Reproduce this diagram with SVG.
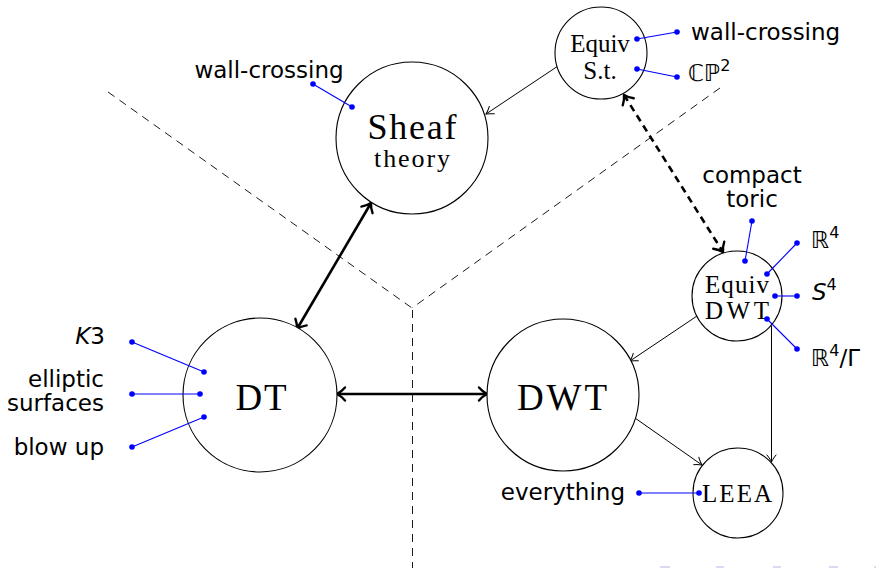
<svg xmlns="http://www.w3.org/2000/svg" width="876" height="568" viewBox="0 0 876 568">
  <style>
    .node { fill: #ffffff; stroke: #000000; stroke-width: 1.1; }
    .rm { font-family: "Liberation Serif", "DejaVu Serif", serif; fill: #000000; text-anchor: middle; }
    .sf { font-family: "DejaVu Sans", "Liberation Sans", sans-serif; font-size: 23px; fill: #000000; }
    .divider { fill: none; stroke: #1a1a1a; stroke-width: 1; stroke-dasharray: 8 6; }
    .thin { fill: none; stroke: #000000; stroke-width: 1; marker-end: url(#tip); }
    .thick { fill: none; stroke: #000000; stroke-width: 2.6; marker-start: url(#bigtip); marker-end: url(#bigtip); }
    .thickdash { fill: none; stroke: #000000; stroke-width: 2.6; stroke-dasharray: 7 5; marker-start: url(#bigtip); marker-end: url(#bigtip); }
    .pin { stroke: #0000ff; stroke-width: 1.1; fill: none; }
    .dot { fill: #0000ff; }
    .sup { font-size: 16px; }
    .ghost { fill: #dcd8ef; }
  </style>
  <defs>
    <marker id="tip" viewBox="-10 -6 12 12" refX="0" refY="0" markerWidth="12" markerHeight="12" markerUnits="userSpaceOnUse" orient="auto-start-reverse">
      <path d="M-7,-4.5 C-4,-2 -1.5,-0.7 0,0 C-1.5,0.7 -4,2 -7,4.5" fill="none" stroke="#000000" stroke-width="1" stroke-linecap="round"/>
    </marker>
    <marker id="bigtip" viewBox="-12 -9 16 18" refX="0" refY="0" markerWidth="16" markerHeight="18" markerUnits="userSpaceOnUse" orient="auto-start-reverse">
      <path d="M-8,-6.5 C-5,-3 -2,-1 0,0 C-2,1 -5,3 -8,6.5" fill="none" stroke="#000000" stroke-width="2.4" stroke-linecap="round" stroke-linejoin="round"/>
    </marker>
  </defs>

  <!-- region dividers -->
  <g id="dividers">
    <line class="divider" x1="108" y1="92" x2="412" y2="308"/>
    <line class="divider" x1="720" y1="88" x2="412" y2="308"/>
    <line class="divider" x1="412.5" y1="310" x2="412.5" y2="568"/>
  </g>

  <!-- connectors -->
  <g id="connectors">
    <line class="thin" x1="558" y1="66" x2="486" y2="114"/>
    <line class="thin" x1="697" y1="316" x2="630" y2="361"/>
    <line class="thin" x1="771.5" y1="326" x2="771.5" y2="462"/>
    <line class="thin" x1="635" y1="418" x2="702" y2="465"/>
    <line class="thick" x1="371" y1="203" x2="297" y2="329"/>
    <line class="thick" x1="337" y1="394" x2="487" y2="394"/>
    <line class="thickdash" x1="624" y1="95" x2="723" y2="252"/>
  </g>

  <!-- nodes -->
  <g id="sheaf">
    <circle class="node" cx="412" cy="138" r="76"/>
    <text class="rm" x="412" y="139" font-size="36" textLength="89">Sheaf</text>
    <text class="rm" x="412" y="167" font-size="26" textLength="76">theory</text>
  </g>
  <g id="equiv-st">
    <circle class="node" cx="601" cy="53" r="46"/>
    <text class="rm" x="600" y="52" font-size="25">Equiv</text>
    <text class="rm" x="600" y="79" font-size="25">S.t.</text>
  </g>
  <g id="dt">
    <circle class="node" cx="260" cy="395" r="77"/>
    <text class="rm" x="261" y="410" font-size="37" textLength="51">DT</text>
  </g>
  <g id="dwt">
    <circle class="node" cx="563" cy="395" r="76"/>
    <text class="rm" x="562" y="410" font-size="37" textLength="90">DWT</text>
  </g>
  <g id="equiv-dwt">
    <circle class="node" cx="737" cy="296" r="45"/>
    <text class="rm" x="737" y="293" font-size="25" textLength="64">Equiv</text>
    <text class="rm" x="737" y="319" font-size="25" textLength="64">DWT</text>
  </g>
  <g id="leea">
    <circle class="node" cx="738" cy="493" r="45"/>
    <text class="rm" x="737" y="502" font-size="25" textLength="70">LEEA</text>
  </g>

  <!-- pinned annotations -->
  <g id="pins">
    <line class="pin" x1="313" y1="84" x2="352" y2="107"/>
    <circle class="dot" cx="313" cy="84" r="2.8"/><circle class="dot" cx="352" cy="107" r="2.8"/>
    <line class="pin" x1="677" y1="32" x2="637" y2="39"/>
    <circle class="dot" cx="677" cy="32" r="2.8"/><circle class="dot" cx="637" cy="39" r="2.8"/>
    <line class="pin" x1="677" y1="77" x2="637" y2="69"/>
    <circle class="dot" cx="677" cy="77" r="2.8"/><circle class="dot" cx="637" cy="69" r="2.8"/>
    <line class="pin" x1="752" y1="221" x2="745" y2="261"/>
    <circle class="dot" cx="752" cy="221" r="2.8"/><circle class="dot" cx="745" cy="261" r="2.8"/>
    <line class="pin" x1="797" y1="243" x2="767" y2="274"/>
    <circle class="dot" cx="797" cy="243" r="2.8"/><circle class="dot" cx="767" cy="274" r="2.8"/>
    <line class="pin" x1="797" y1="296" x2="775" y2="296"/>
    <circle class="dot" cx="797" cy="296" r="2.8"/><circle class="dot" cx="775" cy="296" r="2.8"/>
    <line class="pin" x1="797" y1="349" x2="767" y2="319"/>
    <circle class="dot" cx="797" cy="349" r="2.8"/><circle class="dot" cx="767" cy="319" r="2.8"/>
    <line class="pin" x1="132" y1="342" x2="204" y2="372"/>
    <circle class="dot" cx="132" cy="342" r="2.8"/><circle class="dot" cx="204" cy="372" r="2.8"/>
    <line class="pin" x1="132" y1="394" x2="200" y2="394"/>
    <circle class="dot" cx="132" cy="394" r="2.8"/><circle class="dot" cx="200" cy="394" r="2.8"/>
    <line class="pin" x1="132" y1="447" x2="204" y2="417"/>
    <circle class="dot" cx="132" cy="447" r="2.8"/><circle class="dot" cx="204" cy="417" r="2.8"/>
    <line class="pin" x1="639" y1="493" x2="699" y2="493" stroke-width="1.8" stroke="#3a3aff"/>
    <circle class="dot" cx="639" cy="493" r="2.8"/><circle class="dot" cx="699" cy="493" r="2.8"/>
  </g>

  <!-- annotation labels -->
  <g id="labels">
    <text class="sf" x="269" y="78" text-anchor="middle">wall-crossing</text>
    <text class="sf" x="691" y="40">wall-crossing</text>
    <text class="sf" x="688" y="81">ℂℙ<tspan class="sup" dy="-10">2</tspan></text>
    <text class="sf" x="752" y="183" text-anchor="middle">compact</text>
    <text class="sf" x="752" y="207" text-anchor="middle">toric</text>
    <text class="sf" x="811" y="248">ℝ<tspan class="sup" dy="-10">4</tspan></text>
    <text class="sf" x="812" y="300"><tspan font-style="italic">S</tspan><tspan class="sup" dy="-10">4</tspan></text>
    <text class="sf" x="811" y="366">ℝ<tspan class="sup" dy="-10">4</tspan><tspan dy="10">/Γ</tspan></text>
    <text class="sf" x="105" y="344" text-anchor="end"><tspan font-style="italic">K</tspan>3</text>
    <text class="sf" x="104" y="387" text-anchor="end">elliptic</text>
    <text class="sf" x="104" y="411" text-anchor="end">surfaces</text>
    <text class="sf" x="104" y="455" text-anchor="end">blow up</text>
    <text class="sf" x="625" y="500" text-anchor="end">everything</text>
  </g>

  <!-- faint marks along the lower edge -->
  <g id="edge-marks">
    <rect class="ghost" x="660" y="566" width="10" height="2"/>
    <rect class="ghost" x="716" y="566" width="8" height="2"/>
    <rect class="ghost" x="773" y="566" width="8" height="2"/>
    <rect class="ghost" x="829" y="566" width="9" height="2"/>
    <rect class="ghost" x="874" y="566" width="2" height="2"/>
  </g>
</svg>
